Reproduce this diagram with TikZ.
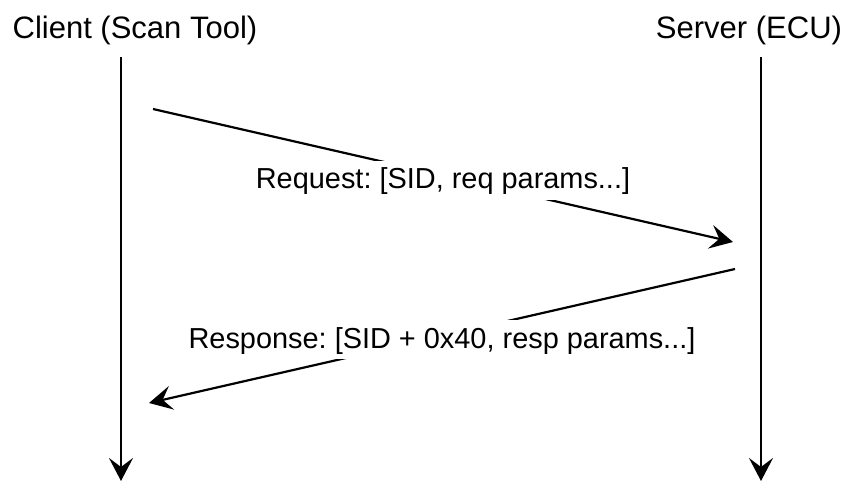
\documentclass[tikz,border=0pt]{standalone}
\usepackage{fontspec}
\setmainfont{Liberation Sans}
\usetikzlibrary{arrows.meta, positioning}
\frenchspacing

\begin{document}
\begin{tikzpicture}[
    x=1pt, y=-1pt,
    head/.style={font=\fontsize{31}{36}\selectfont, inner sep=0pt},
    lbl/.style={font=\fontsize{28.9}{34}\selectfont, fill=white, inner xsep=1pt,
        inner ysep=4pt, text height=24pt, text depth=7pt},
    life/.style={-{Stealth[length=23pt, width=24pt, inset=9pt]}, line width=2.2pt},
    msg/.style={-{Stealth[length=23pt, width=24pt, inset=9pt]}, line width=2.2pt},
]
    \useasboundingbox (0,0) rectangle (847,482);

    % Participants
    \node[head] (client) at (135,30) {Client (Scan Tool)};
    \node[head] (server) at (749,30) {Server (ECU)};

    % Lifelines
    \coordinate (cTop) at (121,57);
    \coordinate (cBot) at (121,481);
    \coordinate (sTop) at (761,57);
    \coordinate (sBot) at (761,481);
    \draw[life] (cTop) -- (cBot);
    \draw[life] (sTop) -- (sBot);

    % Messages
    \coordinate (reqA) at (153,109);
    \coordinate (reqB) at (733,242);
    \coordinate (resA) at (735,269);
    \coordinate (resB) at (149,403);
    \draw[msg] (reqA) -- node[lbl, yshift=-4.5pt] (req) {Request: [SID, req params...]} (reqB);
    \draw[msg] (resA) -- node[lbl, yshift=-3.5pt] (res) {Response: [SID + 0x40, resp params...]} (resB);
\end{tikzpicture}
\end{document}
